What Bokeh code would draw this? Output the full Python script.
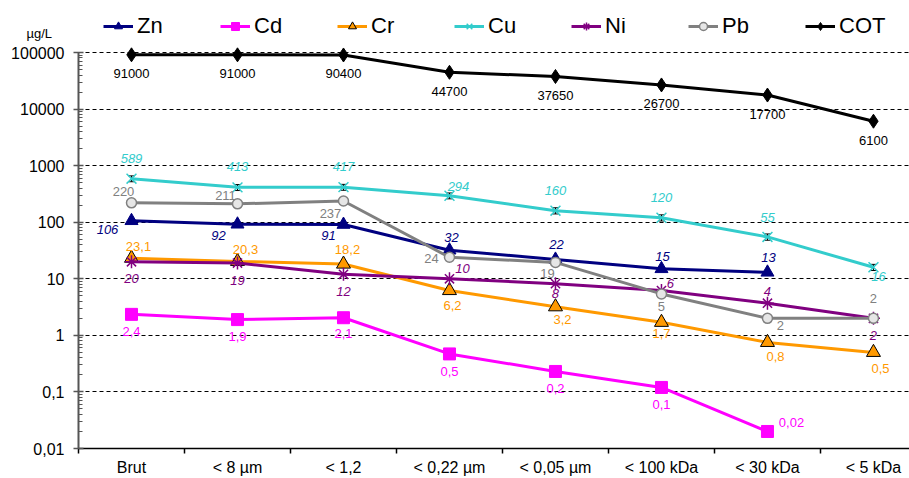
import math
from bokeh.plotting import figure
from bokeh.models import (ColumnDataSource, FixedTicker, Range1d, Legend, LegendItem,
                          Whisker, TeeHead)
from bokeh.core.properties import value
from bokeh.embed import file_html
from bokeh.resources import INLINE

NaN = float("nan")

# ---------------- data ----------------
categories = ["Brut", "< 8 µm", "< 1,2", "< 0,22 µm", "< 0,05 µm",
              "< 100 kDa", "< 30 kDa", "< 5 kDa"]
zn = [106, 92, 91, 32, 22, 15, 13, NaN]
cd = [2.35, 1.9, 2.05, 0.47, 0.23, 0.12, 0.02, NaN]
cr = [23.1, 20.3, 18.2, 6.2, 3.2, 1.7, 0.75, 0.5]
cu = [589, 413, 417, 294, 160, 120, 55, 16]
ni = [20, 19, 12, 10, 8.2, 6.2, 3.7, 2]
pb = [220, 211, 237, 24, 19.5, 5.4, 2, 2]
cot = [91000, 91000, 90400, 44700, 37650, 26700, 17700, 6100]
cu_err = [70, 50, 50, 35, 20, 15, 7, 2]
pb_err = [25, 25, 28, 3, 2, 0.6, 0.25, 0.25]

zn_lbl = ["106", "92", "91", "32", "22", "15", "13", ""]
cd_lbl = ["2,4", "1,9", "2,1", "0,5", "0,2", "0,1", "0,02", ""]
cr_lbl = ["23,1", "20,3", "18,2", "6,2", "3,2", "1,7", "0,8", "0,5"]
cu_lbl = ["589", "413", "417", "294", "160", "120", "55", "16"]
ni_lbl = ["20", "19", "12", "10", "8", "6", "4", "2"]
pb_lbl = ["220", "211", "237", "24", "19", "5", "2", "2"]
cot_lbl = ["91000", "91000", "90400", "44700", "37650", "26700", "17700", "6100"]

y_tick_values = [0.01, 0.1, 1, 10, 100, 1000, 10000, 100000]
y_tick_labels = ["0,01", "0,1", "1", "10", "100", "1000", "10000", "100000"]

# ---------------- label placement (pixel offsets, styling) ----------------
zn_dx = [-24, -19, -15, 2, 1, 1, 1, 0]
zn_dy = [9, 11, 11, -13, -15, -12, -15, 0]
cd_dx = [0, 0, 0, 0, 0, 0, 24, 0]
cd_dy = [17, 17, 16, 18, 17, 17, -9, 0]
cr_dx = [7, 8, 4, 3, 7, 0, 8, 7]
cr_dy = [-12, -12, -15, 15, 13, 11, 14, 16]
cu_dx = [0, 0, 0, 9, 0, 0, 0, 5]
cu_dy = [-20, -21, -21, -9, -20, -20, -19, 9]
ni_dx = [0, 0, 0, 13, 0, 9, 0, 0]
ni_dy = [17, 17, 17, -10, 10, -7, -12, 17]
pb_dx = [-8, -12, -13, -18, -8, 0, 13, 0]
pb_dy = [-11, -8, 12, 1, 11, 13, 7, -20]
cot_dx = [0] * 8
cot_dy = [19] * 8

xs = [i + 0.5 for i in range(len(categories))]
FONT = "Liberation Sans"

# layout: frame from y=18 to y=448; decades 0.01 .. 1e5 span y=448 .. 52
FRAME_TOP, AXIS_TOP, AXIS_BOTTOM = 18, 52, 448
decade_px = (AXIS_BOTTOM - AXIS_TOP) / 7.0
y_end = 10 ** (5 + (AXIS_TOP - FRAME_TOP) / decade_px)

p = figure(width=909, height=478, output_backend="svg", toolbar_location=None,
           x_range=Range1d(0, 7.84), y_range=Range1d(0.01, y_end), y_axis_type="log",
           min_border_left=78, min_border_right=0, min_border_top=FRAME_TOP,
           min_border_bottom=478 - AXIS_BOTTOM)
p.outline_line_color = None
p.background_fill_color = "white"
p.border_fill_color = "white"

p.title.text = "µg/L"
p.title.align = "left"
p.title.offset = -52
p.title.vertical_align = "bottom"
p.title.standoff = -44
p.title.text_font = FONT
p.title.text_font_size = "13px"
p.title.text_font_style = "normal"
p.title.text_color = "#000000"

# axes
p.xaxis.ticker = FixedTicker(ticks=xs, minor_ticks=list(range(len(categories))))
p.xaxis.major_label_overrides = {x: c for x, c in zip(xs, categories)}
p.xaxis.major_tick_in = 0
p.xaxis.major_tick_out = 0
p.xaxis.minor_tick_in = 0
p.xaxis.minor_tick_out = 5
p.xaxis.minor_tick_line_color = "#000000"
p.xaxis.minor_tick_line_width = 1.5
p.xaxis.axis_line_color = "#000000"
p.xaxis.axis_line_width = 1.5
p.xaxis.major_label_standoff = 5
p.xaxis.major_label_text_font = FONT
p.xaxis.major_label_text_font_size = "16px"
p.xaxis.major_label_text_color = "#000000"

minors = [m * 10 ** k for k in range(-2, 5) for m in range(2, 10)]
p.yaxis.ticker = FixedTicker(ticks=y_tick_values, minor_ticks=minors)
p.yaxis.bounds = (y_tick_values[0], y_tick_values[-1])
p.yaxis.major_label_overrides = {v: t for v, t in zip(y_tick_values, y_tick_labels)}
p.yaxis.axis_line_color = "#555555"
p.yaxis.axis_line_width = 2
p.yaxis.major_tick_in = 5
p.yaxis.major_tick_out = 5
p.yaxis.major_tick_line_color = "#555555"
p.yaxis.major_tick_line_width = 1.5
p.yaxis.minor_tick_in = 4
p.yaxis.minor_tick_out = 0
p.yaxis.minor_tick_line_color = "#555555"
p.yaxis.minor_tick_line_width = 1
p.yaxis.major_label_standoff = 9
p.yaxis.major_label_text_font = FONT
p.yaxis.major_label_text_font_size = "16px"
p.yaxis.major_label_text_color = "#000000"

p.xgrid.grid_line_color = None
p.ygrid.grid_line_color = "#000000"
p.ygrid.grid_line_width = 1
p.ygrid.grid_line_dash = "4 3"

series = [
    ("Zn", zn, "#000080", "triangle", 13, "#000080", "#000080", zn_lbl, zn_dx, zn_dy, "italic", "#000080"),
    ("Cd", cd, "#FF00FF", "square", 12, "#FF00FF", "#FF00FF", cd_lbl, cd_dx, cd_dy, "normal", "#FF00FF"),
    ("Cr", cr, "#FF9900", "triangle", 14, "#FF9900", "#000000", cr_lbl, cr_dx, cr_dy, "normal", "#FF9900"),
    ("Cu", cu, "#33CCCC", "x", 14, "#33CCCC", "#33CCCC", cu_lbl, cu_dx, cu_dy, "italic", "#33CCCC"),
    ("Ni", ni, "#800080", "asterisk", 13, "#800080", "#800080", ni_lbl, ni_dx, ni_dy, "italic", "#800080"),
    ("Pb", pb, "#808080", "circle", 10, "#E6E6E6", "#808080", pb_lbl, pb_dx, pb_dy, "normal", "#808080"),
    ("COT", cot, "#000000", "diamond", 14, "#000000", "#000000", cot_lbl, cot_dx, cot_dy, "normal", "#000000"),
]
errors = {"Cu": cu_err, "Pb": pb_err}

items = []
for name, vals, col, mk, sz, fill, mline, lbl, dx, dy, style, lcol in series:
    src = ColumnDataSource(dict(x=xs, y=vals, text=lbl, dx=dx, dy=dy))
    ln = p.line("x", "y", source=src, line_color=col, line_width=3)
    if name in errors:
        err = errors[name]
        esrc = ColumnDataSource(dict(x=xs, lo=[v - e for v, e in zip(vals, err)],
                                     hi=[v + e for v, e in zip(vals, err)]))
        w = Whisker(base="x", lower="lo", upper="hi", source=esrc, line_color="#000000",
                    line_width=1,
                    upper_head=TeeHead(size=6, line_color="#000000", line_width=1),
                    lower_head=TeeHead(size=6, line_color="#000000", line_width=1))
        p.add_layout(w)
    sc = p.scatter("x", "y", source=src, marker=mk, size=sz, fill_color=fill,
                   line_color=mline, line_width=1.5 if mk in ("x", "asterisk", "circle") else 1)
    p.text("x", "y", text="text", source=src, x_offset="dx", y_offset="dy",
           text_align="center", text_baseline="middle", text_font=value(FONT),
           text_font_size="13px", text_font_style=style, text_color=lcol)
    items.append(LegendItem(label=name, renderers=[ln, sc]))

legend = Legend(items=items, orientation="horizontal",
                location=(25, AXIS_BOTTOM - 39),
                glyph_width=30, glyph_height=20, label_height=20, label_width=48,
                label_standoff=4, spacing=35, padding=0, margin=0,
                label_text_font=FONT, label_text_font_size="22px",
                label_text_line_height=0.8,
                label_text_color="#000000", border_line_color=None,
                background_fill_alpha=0)
p.add_layout(legend, "center")

open("out.html", "w").write(file_html(p, INLINE))
